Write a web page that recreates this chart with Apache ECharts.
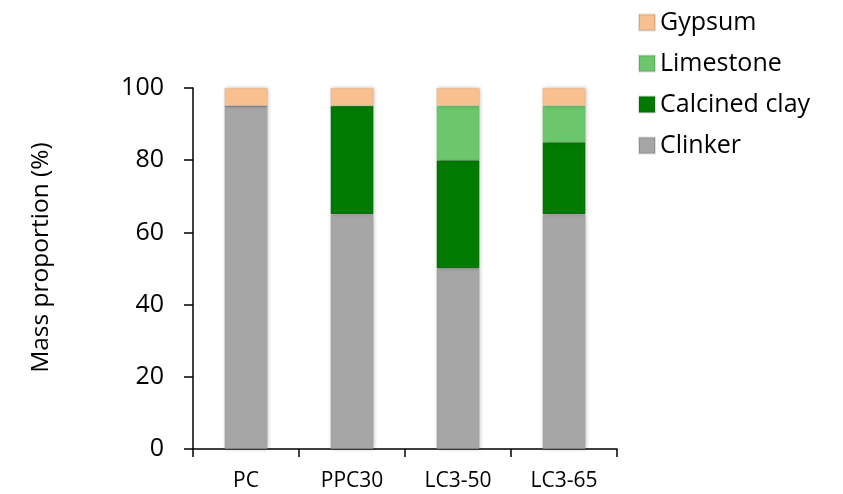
<!DOCTYPE html>
<html>
<head>
<meta charset="utf-8">
<script src="https://cdn.jsdelivr.net/npm/echarts@6/dist/echarts.min.js"></script>
<style>
  html, body { margin: 0; padding: 0; background: #fff; }
  #chart { width: 843px; height: 494px; }
</style>
</head>
<body>
<div id="chart"></div>
<script>
// Cement blend compositions (mass %)
const categories = ['PC', 'PPC30', 'LC3-50', 'LC3-65'];
const clinker = [95, 65, 50, 65];
const calcinedClay = [0, 30, 30, 20];
const limestone = [0, 0, 15, 10];
const gypsum = [5, 5, 5, 5];
const yTicks = [0, 20, 40, 60, 80, 100];

const FONT = '"Open Sans", "Noto Sans", sans-serif';

const chart = echarts.init(document.getElementById('chart'));

function layer(name, data, color) {
  return {
    name: name,
    type: 'bar',
    stack: 'mix',
    data: data,
    barWidth: 43,
    itemStyle: {
      color: color,
      borderColor: 'rgba(0,0,0,0.12)',
      borderWidth: 0.5,
      shadowBlur: 4,
      shadowColor: 'rgba(0,0,0,0.25)',
      shadowOffsetX: 1
    }
  };
}

chart.setOption({
  backgroundColor: '#fff',
  animation: false,
  grid: { left: 193, right: 226, top: 88, bottom: 45 },
  legend: {
    data: ['Gypsum', 'Limestone', 'Calcined clay', 'Clinker'],
    orient: 'vertical',
    left: 633,
    top: 2,
    itemWidth: 16,
    itemHeight: 16,
    itemGap: 10,
    icon: 'rect',
    textStyle: { fontFamily: FONT, fontSize: 25, color: '#000', lineHeight: 31 }
  },
  xAxis: {
    type: 'category',
    data: categories,
    axisLine: { lineStyle: { color: '#000', width: 1.5 } },
    axisTick: { show: true, length: 8, lineStyle: { color: '#000', width: 1.5 } },
    axisLabel: { fontFamily: FONT, fontSize: 21, color: '#000', margin: 22 }
  },
  yAxis: {
    type: 'value',
    min: yTicks[0],
    max: yTicks[yTicks.length - 1],
    interval: yTicks[1] - yTicks[0],
    name: 'Mass proportion (%)',
    nameLocation: 'middle',
    nameGap: 139,
    nameTextStyle: { fontFamily: FONT, fontSize: 24.5, color: '#000', padding: [0, 0, 0, 22] },
    axisLine: { show: true, lineStyle: { color: '#000', width: 1.5 } },
    axisTick: { show: true, length: 9, lineStyle: { color: '#000', width: 1.5 } },
    axisLabel: { fontFamily: FONT, fontSize: 25, color: '#000', margin: 29 },
    splitLine: { show: false }
  },
  series: [
    layer('Clinker', clinker, '#A6A6A6'),
    layer('Calcined clay', calcinedClay, '#007A00'),
    layer('Limestone', limestone, '#6CC76C'),
    layer('Gypsum', gypsum, '#F8C08F')
  ]
});
</script>
</body>
</html>
